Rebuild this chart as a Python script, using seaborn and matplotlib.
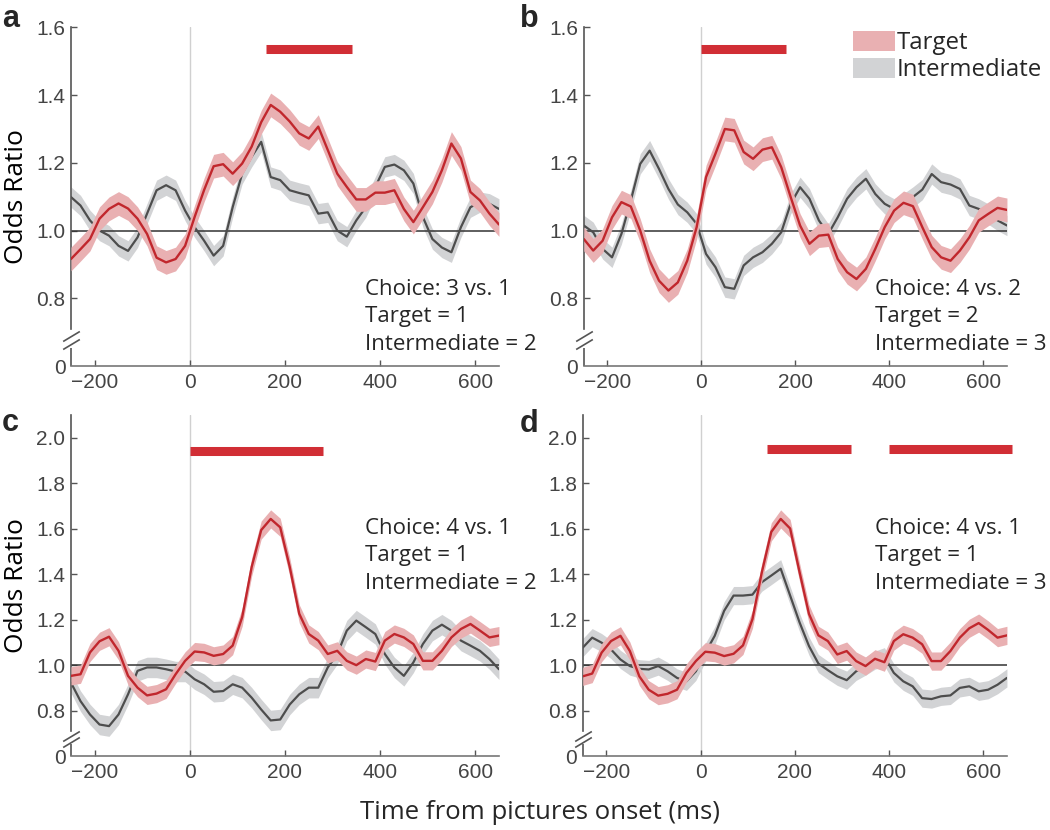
import numpy as np
import pandas as pd
import matplotlib
matplotlib.use('Agg')
import matplotlib.pyplot as plt
from matplotlib.patches import Patch
import seaborn as sns

# time grid (ms), 20 ms steps
t = list(range(-250, 651, 20))

# odds ratios
a_target = [0.916, 0.945, 0.975, 1.035, 1.064, 1.08, 1.065, 1.035, 0.99, 0.92,
            0.906, 0.916, 0.955, 1.04, 1.12, 1.19, 1.196, 1.168, 1.198, 1.248,
            1.32, 1.371, 1.351, 1.322, 1.287, 1.272, 1.307, 1.238, 1.168, 1.129,
            1.092, 1.092, 1.112, 1.112, 1.119, 1.064, 1.025, 1.069, 1.114, 1.178,
            1.257, 1.213, 1.114, 1.089, 1.05, 1.018]
a_inter = [1.099, 1.074, 1.03, 1.0, 0.985, 0.955, 0.94, 0.98, 1.05, 1.119,
           1.134, 1.119, 1.059, 1.01, 0.97, 0.926, 0.955, 1.069, 1.168, 1.218,
           1.262, 1.158, 1.149, 1.119, 1.111, 1.104, 1.05, 1.054, 1.0, 0.982,
           1.03, 1.069, 1.129, 1.188, 1.195, 1.178, 1.139, 1.04, 0.975, 0.95,
           0.936, 1.01, 1.069, 1.084, 1.079, 1.064]
b_target = [0.975, 0.941, 0.97, 1.039, 1.084, 1.071, 1.0, 0.911, 0.852, 0.823,
            0.847, 0.911, 1.01, 1.158, 1.227, 1.30, 1.296, 1.232, 1.212, 1.239,
            1.246, 1.187, 1.099, 1.015, 0.961, 0.985, 0.988, 0.916, 0.877, 0.857,
            0.887, 0.946, 1.01, 1.059, 1.082, 1.072, 1.01, 0.951, 0.921, 0.911,
            0.941, 0.98, 1.03, 1.049, 1.067, 1.061]
b_inter = [1.015, 0.995, 0.946, 0.921, 0.99, 1.089, 1.197, 1.236, 1.182, 1.123,
           1.077, 1.054, 1.02, 0.931, 0.892, 0.833, 0.828, 0.897, 0.921, 0.936,
           0.961, 0.995, 1.079, 1.128, 1.094, 1.03, 0.99, 1.039, 1.094, 1.128,
           1.153, 1.108, 1.079, 1.064, 1.079, 1.099, 1.121, 1.167, 1.143, 1.136,
           1.123, 1.074, 1.064, 1.049, 1.03, 1.015]
c_target = [0.953, 0.96, 1.056, 1.105, 1.125, 1.063, 0.953, 0.901, 0.867, 0.875,
            0.894, 0.96, 1.019, 1.06, 1.056, 1.041, 1.049, 1.086, 1.211, 1.432,
            1.594, 1.643, 1.606, 1.432, 1.226, 1.137, 1.108, 1.049, 1.063, 1.019,
            1.0, 1.027, 1.016, 1.108, 1.137, 1.122, 1.093, 1.019, 1.019, 1.063,
            1.122, 1.159, 1.181, 1.152, 1.122, 1.13]
c_inter = [0.923, 0.842, 0.783, 0.739, 0.732, 0.783, 0.872, 0.975, 0.99, 0.99,
           0.982, 0.972, 0.972, 0.938, 0.916, 0.883, 0.886, 0.916, 0.901, 0.857,
           0.805, 0.757, 0.761, 0.827, 0.872, 0.901, 0.901, 0.99, 1.049, 1.152,
           1.196, 1.167, 1.137, 1.049, 0.99, 0.953, 1.012, 1.093, 1.152, 1.178,
           1.152, 1.108, 1.086, 1.063, 1.027, 0.982]
d_target = [0.951, 0.963, 1.055, 1.106, 1.129, 1.062, 0.951, 0.892, 0.866, 0.874,
            0.892, 0.966, 1.018, 1.059, 1.055, 1.04, 1.05, 1.087, 1.202, 1.409,
            1.586, 1.643, 1.601, 1.409, 1.225, 1.131, 1.106, 1.047, 1.062, 1.018,
            0.996, 1.028, 1.013, 1.106, 1.136, 1.121, 1.092, 1.018, 1.018, 1.062,
            1.121, 1.162, 1.185, 1.155, 1.121, 1.131]
d_inter = [1.077, 1.121, 1.099, 1.069, 1.025, 0.996, 0.984, 0.981, 0.996, 0.973,
           0.944, 0.929, 0.973, 1.055, 1.129, 1.239, 1.306, 1.306, 1.31, 1.365,
           1.394, 1.424, 1.306, 1.188, 1.084, 1.007, 0.978, 0.951, 0.934, 0.973,
           0.996, 1.022, 1.037, 0.966, 0.929, 0.907, 0.855, 0.851, 0.863, 0.867,
           0.9, 0.907, 0.885, 0.892, 0.914, 0.944]

# s.e.m. half widths (target, intermediate)
sem = {'a': (0.035, 0.03), 'b': (0.035, 0.03), 'c': (0.04, 0.045), 'd': (0.04, 0.04)}

# significant windows (ms) and the height they are drawn at
sig = {'a': [(160, 340)], 'b': [(0, 180)], 'c': [(0, 280)], 'd': [(140, 320), (400, 660)]}
sig_y = {'a': 1.535, 'b': 1.536, 'c': 1.943, 'd': 1.951}

notes = {'a': 'Choice: 3 vs. 1\nTarget = 1\nIntermediate = 2',
         'b': 'Choice: 4 vs. 2\nTarget = 2\nIntermediate = 3',
         'c': 'Choice: 4 vs. 1\nTarget = 1\nIntermediate = 2',
         'd': 'Choice: 4 vs. 1\nTarget = 1\nIntermediate = 3'}

series = {'a': (a_target, a_inter), 'b': (b_target, b_inter),
          'c': (c_target, c_inter), 'd': (d_target, d_inter)}

red, red_band = '#c1272d', '#e9b0b2'
grey, grey_band = '#4d4d4d', '#d2d3d5'
sig_col = '#d12e35'
tick_col = '#555555'

sns.set_style("ticks")
plt.rcParams['font.family'] = ['Liberation Sans', 'DejaVu Sans']
label_font = 'Open Sans'

fig = plt.figure(figsize=(10.5, 8.3), dpi=100)
boxes = {'a': [0.0676, 0.559, 0.4076, 0.408],
         'b': [0.556, 0.559, 0.403, 0.408],
         'c': [0.0676, 0.089, 0.4076, 0.411],
         'd': [0.555, 0.089, 0.404, 0.411]}

for key in ['a', 'b', 'c', 'd']:
    ax = fig.add_axes(boxes[key])
    tgt, itm = series[key]
    se_t, se_i = sem[key]
    df = pd.DataFrame({'t': t, 'target': tgt, 'inter': itm})
    top = 1.6 if key in 'ab' else 2.1

    ax.axvline(0, color='#d0d0d0', lw=1.0, zorder=0.5)
    ax.fill_between(df['t'], df['inter'] - se_i, df['inter'] + se_i,
                    color=grey_band, lw=0, zorder=1)
    ax.axhline(1.0, color='#333333', lw=1.1, zorder=1.5)
    sns.lineplot(data=df, x='t', y='inter', color=grey, lw=1.6, ax=ax, zorder=2)
    ax.fill_between(df['t'], df['target'] - se_t, df['target'] + se_t,
                    color=red_band, lw=0, zorder=3)
    sns.lineplot(data=df, x='t', y='target', color=red, lw=1.7, ax=ax, zorder=4)

    for x0, x1 in sig[key]:
        ax.plot([x0, x1], [sig_y[key]] * 2, color=sig_col, lw=6.5,
                solid_capstyle='butt', clip_on=False, zorder=5)

    ax.set_xlim(-250, 650)
    ax.set_ylim(0.6, top)
    yt = [0.6, 0.8, 1.0, 1.2, 1.4, 1.6] if key in 'ab' else \
         [0.6, 0.8, 1.0, 1.2, 1.4, 1.6, 1.8, 2.0]
    ax.set_yticks(yt)
    ax.set_yticklabels(['0'] + ['%.1f' % v for v in yt[1:]])
    ax.set_xticks([-200, 0, 200, 400, 600])
    ax.yaxis.get_major_ticks()[0].tick1line.set_visible(False)
    ax.tick_params(direction='in', length=4, width=1, colors=tick_col,
                   labelsize=15, labelcolor='#444444', pad=4)
    ax.tick_params(axis='x', pad=5)

    # broken left spine
    sns.despine(ax=ax)
    ax.spines['left'].set_bounds(0.71, top)
    ax.spines['left'].set_color(tick_col)
    ax.spines['bottom'].set_color('#777777')
    ax.spines['left'].set_linewidth(1.2)
    ax.spines['bottom'].set_linewidth(1.2)
    ytr = ax.get_yaxis_transform()
    ax.plot([0, 0], [0.6, 0.652], color=tick_col, lw=1.2, transform=ytr,
            clip_on=False, solid_capstyle='butt')
    ax.plot([0, 0], [0.664, 0.69], transform=ytr, ls='none',
            marker=[(-1, -0.6), (1, 0.6)], ms=12, mew=1.2, mec=tick_col,
            clip_on=False)

    ax.set_xlabel('')
    if key in 'ac':
        ax.set_ylabel('Odds Ratio', fontsize=19, family=label_font, color='black')
        ax.yaxis.set_label_coords(-0.098, 0.5)
    else:
        ax.set_ylabel('')

    ny = 0.145 if key in 'ab' else 0.587
    ax.text(0.688, ny, notes[key], transform=ax.transAxes, fontsize=16,
            family=label_font, va='center', ha='left', linespacing=1.42,
            clip_on=False)

    if key == 'b':
        handles = [Patch(facecolor=red_band, edgecolor='none', label='Target'),
                   Patch(facecolor=grey_band, edgecolor='none', label='Intermediate')]
        ax.legend(handles=handles, loc='upper left', bbox_to_anchor=(0.635, 0.99),
                  frameon=False, borderpad=0, borderaxespad=0,
                  handlelength=1.75, handleheight=0.9, handletextpad=0.1,
                  labelspacing=0.12, prop={'family': label_font, 'size': 17.3})

letters = {'a': (0.002, 0.968), 'b': (0.495, 0.968), 'c': (0.002, 0.481), 'd': (0.495, 0.479)}
for key, (x, y) in letters.items():
    fig.text(x, y, key, fontsize=22, fontweight='bold', va='baseline', ha='left')

fig.text(0.514, 0.021, 'Time from pictures onset (ms)', ha='center', va='center',
         fontsize=18.5, family=label_font)

plt.savefig('out.png', dpi=100)
